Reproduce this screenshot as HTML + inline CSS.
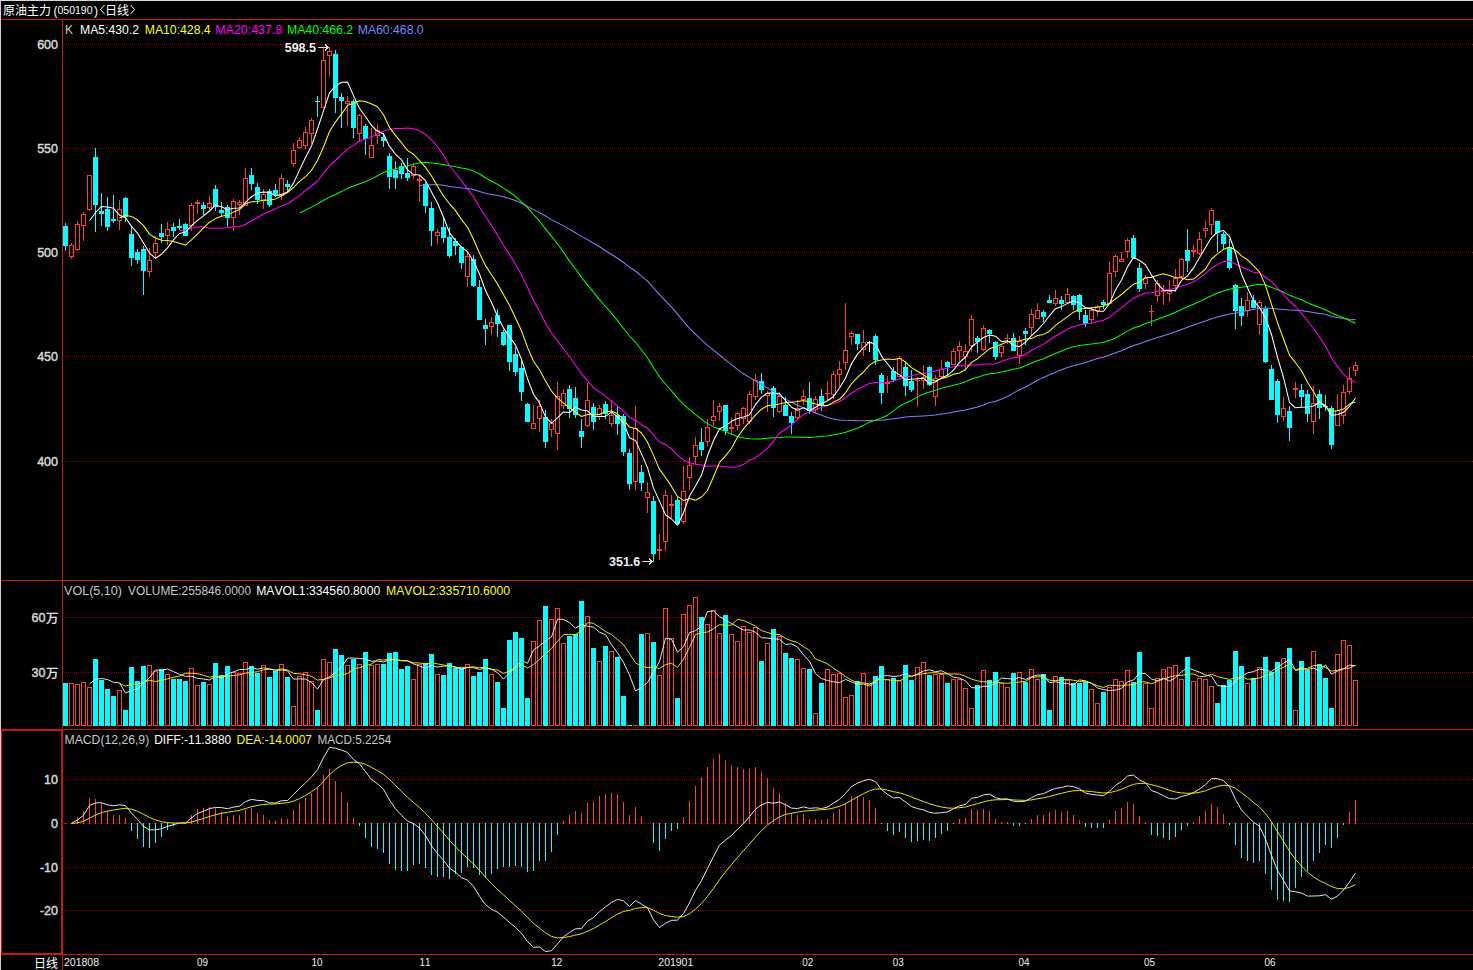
<!DOCTYPE html><html><head><meta charset="utf-8"><title>chart</title><style>html,body{margin:0;padding:0;background:#000;overflow:hidden}body{width:1473px;height:970px;position:relative}text{font-kerning:none}</style></head><body><svg width="1473" height="970" viewBox="0 0 1473 970" style="display:block;position:absolute;left:0;top:0">
<rect width="1473" height="970" fill="#000"/>
<rect x="0" y="0" width="1473" height="1" fill="#dcd6d4"/>
<rect x="0" y="0" width="1" height="970" fill="#d4cfcb"/>
<g stroke="#960000" stroke-width="1" stroke-dasharray="1 1" shape-rendering="crispEdges">
<line x1="64" y1="44.5" x2="1473" y2="44.5"/>
<line x1="64" y1="148.5" x2="1473" y2="148.5"/>
<line x1="64" y1="252.5" x2="1473" y2="252.5"/>
<line x1="64" y1="356.5" x2="1473" y2="356.5"/>
<line x1="64" y1="461.5" x2="1473" y2="461.5"/>
<line x1="64" y1="617.5" x2="1473" y2="617.5"/>
<line x1="64" y1="672.5" x2="1473" y2="672.5"/>
<line x1="64" y1="779.5" x2="1473" y2="779.5"/>
<line x1="64" y1="823.5" x2="1473" y2="823.5"/>
<line x1="64" y1="867.5" x2="1473" y2="867.5"/>
<line x1="64" y1="910.5" x2="1473" y2="910.5"/>
</g>
<g fill="#c21a10" shape-rendering="crispEdges">
<rect x="1" y="19" width="1472" height="1"/>
<rect x="62" y="19" width="1" height="951"/>
<rect x="1" y="580" width="1472" height="1"/>
<rect x="1" y="729" width="1472" height="1"/>
<rect x="1" y="954" width="1472" height="1"/>
<rect x="1" y="730" width="61" height="1"/>
<rect x="1" y="953" width="61" height="1"/>
<rect x="1" y="730" width="1" height="224"/>
<rect x="61" y="730" width="1" height="224"/>
</g>
<g shape-rendering="crispEdges" fill-rule="evenodd">
<path fill="#ff3c3c" d="M69 245h5v12h-5zM70 246h3v10h-3zM71 243h1v2h-1zM71 257h1v2h-1zM75 224h5v26h-5zM76 225h3v24h-3zM77 221h1v3h-1zM77 250h1v1h-1zM81 214h5v12h-5zM82 215h3v10h-3zM83 212h1v2h-1zM83 226h1v15h-1zM87 175h5v35h-5zM88 176h3v33h-3zM89 210h1v1h-1zM117 209h5v12h-5zM118 210h3v10h-3zM119 200h1v9h-1zM119 221h1v9h-1zM147 260h5v12h-5zM148 261h3v10h-3zM149 248h1v12h-1zM149 272h1v5h-1zM153 243h5v10h-5zM154 244h3v8h-3zM155 236h1v7h-1zM155 253h1v6h-1zM165 229h5v7h-5zM166 230h3v5h-3zM167 222h1v7h-1zM167 236h1v9h-1zM189 205h5v21h-5zM190 206h3v19h-3zM191 203h1v2h-1zM191 226h1v5h-1zM195 202h5v2h-5zM197 200h1v2h-1zM197 204h1v10h-1zM207 203h5v5h-5zM208 204h3v3h-3zM209 196h1v7h-1zM209 208h1v3h-1zM231 201h5v17h-5zM232 202h3v15h-3zM233 199h1v2h-1zM233 218h1v13h-1zM237 202h5v3h-5zM238 203h3v1h-3zM239 200h1v2h-1zM239 205h1v10h-1zM243 178h5v28h-5zM244 179h3v26h-3zM245 168h1v10h-1zM261 194h5v7h-5zM262 195h3v5h-3zM263 189h1v5h-1zM263 201h1v8h-1zM279 178h5v18h-5zM280 179h3v16h-3zM281 174h1v4h-1zM281 196h1v4h-1zM291 150h5v14h-5zM292 151h3v12h-3zM293 143h1v7h-1zM293 164h1v3h-1zM297 140h5v8h-5zM298 141h3v6h-3zM299 137h1v3h-1zM299 148h1v1h-1zM303 132h5v14h-5zM304 133h3v12h-3zM305 127h1v5h-1zM305 146h1v3h-1zM309 120h5v14h-5zM310 121h3v12h-3zM311 118h1v2h-1zM311 134h1v10h-1zM321 60h5v48h-5zM322 61h3v46h-3zM323 48h1v12h-1zM327 51h5v5h-5zM328 52h3v3h-3zM329 47h1v4h-1zM329 56h1v20h-1zM345 101h5v3h-5zM346 102h3v1h-3zM347 96h1v5h-1zM347 104h1v22h-1zM357 115h5v19h-5zM358 116h3v17h-3zM359 114h1v1h-1zM359 134h1v8h-1zM369 145h5v13h-5zM370 146h3v11h-3zM371 128h1v17h-1zM375 130h5v6h-5zM376 131h3v4h-3zM377 124h1v6h-1zM377 136h1v8h-1zM411 166h5v10h-5zM412 167h3v8h-3zM413 163h1v3h-1zM413 176h1v3h-1zM417 179h5v2h-5zM419 176h1v3h-1zM419 181h1v21h-1zM435 232h5v4h-5zM436 233h3v2h-3zM437 229h1v3h-1zM437 236h1v8h-1zM465 256h5v21h-5zM466 257h3v19h-3zM467 252h1v4h-1zM467 277h1v10h-1zM489 322h5v5h-5zM490 323h3v3h-3zM491 317h1v5h-1zM491 327h1v8h-1zM531 423h5v6h-5zM532 424h3v4h-3zM533 405h1v18h-1zM537 406h5v13h-5zM538 407h3v11h-3zM539 400h1v6h-1zM539 419h1v13h-1zM549 423h5v7h-5zM550 424h3v5h-3zM551 419h1v4h-1zM551 430h1v7h-1zM555 396h5v38h-5zM556 397h3v36h-3zM557 382h1v14h-1zM557 434h1v16h-1zM561 393h5v13h-5zM562 394h3v11h-3zM563 389h1v4h-1zM563 406h1v3h-1zM585 400h5v26h-5zM586 401h3v24h-3zM587 383h1v17h-1zM587 426h1v1h-1zM597 408h5v9h-5zM598 409h3v7h-3zM599 405h1v3h-1zM599 417h1v3h-1zM609 415h5v9h-5zM610 416h3v7h-3zM611 400h1v15h-1zM611 424h1v3h-1zM633 428h5v54h-5zM634 429h3v52h-3zM635 406h1v22h-1zM635 482h1v8h-1zM645 492h5v6h-5zM646 493h3v4h-3zM647 482h1v10h-1zM647 498h1v15h-1zM657 549h5v2h-5zM659 534h1v15h-1zM659 551h1v9h-1zM663 495h5v47h-5zM664 496h3v45h-3zM665 490h1v5h-1zM665 542h1v9h-1zM669 504h5v2h-5zM671 495h1v9h-1zM671 506h1v12h-1zM681 491h5v31h-5zM682 492h3v29h-3zM683 466h1v25h-1zM683 522h1v2h-1zM687 465h5v13h-5zM688 466h3v11h-3zM689 457h1v8h-1zM689 478h1v12h-1zM693 445h5v12h-5zM694 446h3v10h-3zM695 437h1v8h-1zM695 457h1v7h-1zM705 427h5v15h-5zM706 428h3v13h-3zM707 419h1v8h-1zM707 442h1v4h-1zM711 416h5v5h-5zM712 417h3v3h-3zM713 400h1v16h-1zM713 421h1v5h-1zM717 406h5v6h-5zM718 407h3v4h-3zM719 403h1v3h-1zM719 412h1v9h-1zM729 427h5v2h-5zM731 418h1v9h-1zM731 429h1v5h-1zM735 413h5v13h-5zM736 414h3v11h-3zM737 412h1v1h-1zM737 426h1v4h-1zM741 408h5v11h-5zM742 409h3v9h-3zM743 407h1v1h-1zM743 419h1v5h-1zM747 394h5v28h-5zM748 395h3v26h-3zM749 391h1v3h-1zM749 422h1v2h-1zM753 380h5v17h-5zM754 381h3v15h-3zM755 374h1v6h-1zM755 397h1v3h-1zM765 393h5v3h-5zM766 394h3v1h-3zM767 391h1v2h-1zM767 396h1v16h-1zM777 396h5v16h-5zM778 397h3v14h-3zM779 392h1v4h-1zM779 412h1v1h-1zM795 408h5v10h-5zM796 409h3v8h-3zM797 400h1v8h-1zM797 418h1v2h-1zM801 396h5v4h-5zM802 397h3v2h-3zM803 390h1v6h-1zM803 400h1v5h-1zM813 399h5v11h-5zM814 400h3v9h-3zM815 396h1v3h-1zM815 410h1v4h-1zM825 393h5v1h-5zM827 381h1v12h-1zM827 394h1v6h-1zM831 374h5v21h-5zM832 375h3v19h-3zM833 371h1v3h-1zM833 395h1v4h-1zM837 369h5v6h-5zM838 370h3v4h-3zM839 361h1v8h-1zM839 375h1v12h-1zM843 350h5v13h-5zM844 351h3v11h-3zM845 303h1v47h-1zM845 363h1v7h-1zM849 333h5v4h-5zM850 334h3v2h-3zM851 331h1v2h-1zM851 337h1v8h-1zM861 342h5v8h-5zM862 343h3v6h-3zM863 330h1v12h-1zM863 350h1v6h-1zM885 382h5v2h-5zM887 376h1v6h-1zM887 384h1v9h-1zM897 358h5v19h-5zM898 359h3v17h-3zM899 356h1v2h-1zM915 380h5v1h-5zM917 377h1v3h-1zM917 381h1v26h-1zM921 377h5v4h-5zM922 378h3v2h-3zM923 365h1v12h-1zM923 381h1v8h-1zM933 378h5v19h-5zM934 379h3v17h-3zM935 375h1v3h-1zM935 397h1v9h-1zM939 369h5v8h-5zM940 370h3v6h-3zM941 360h1v9h-1zM951 351h5v14h-5zM952 352h3v12h-3zM953 348h1v3h-1zM957 346h5v5h-5zM958 347h3v3h-3zM959 341h1v5h-1zM959 351h1v10h-1zM963 351h5v6h-5zM964 352h3v4h-3zM965 344h1v7h-1zM965 357h1v14h-1zM969 319h5v27h-5zM970 320h3v25h-3zM971 315h1v4h-1zM971 346h1v6h-1zM981 328h5v22h-5zM982 329h3v20h-3zM983 325h1v3h-1zM983 350h1v1h-1zM999 346h5v7h-5zM1000 347h3v5h-3zM1001 345h1v1h-1zM1001 353h1v4h-1zM1005 338h5v1h-5zM1007 334h1v4h-1zM1007 339h1v5h-1zM1017 341h5v15h-5zM1018 342h3v13h-3zM1019 336h1v5h-1zM1019 356h1v8h-1zM1029 314h5v14h-5zM1030 315h3v12h-3zM1031 309h1v5h-1zM1031 328h1v7h-1zM1035 310h5v9h-5zM1036 311h3v7h-3zM1037 303h1v7h-1zM1053 298h5v6h-5zM1054 299h3v4h-3zM1055 290h1v8h-1zM1055 304h1v2h-1zM1065 294h5v9h-5zM1066 295h3v7h-3zM1067 288h1v6h-1zM1089 310h5v10h-5zM1090 311h3v8h-3zM1091 307h1v3h-1zM1091 320h1v3h-1zM1095 306h5v5h-5zM1096 307h3v3h-3zM1097 305h1v1h-1zM1097 311h1v5h-1zM1107 273h5v31h-5zM1108 274h3v29h-3zM1109 262h1v11h-1zM1113 256h5v16h-5zM1114 257h3v14h-3zM1115 254h1v2h-1zM1115 272h1v5h-1zM1119 259h5v3h-5zM1120 260h3v1h-3zM1121 252h1v7h-1zM1125 240h5v12h-5zM1126 241h3v10h-3zM1127 238h1v2h-1zM1127 252h1v6h-1zM1143 278h5v6h-5zM1144 279h3v4h-3zM1145 275h1v3h-1zM1145 284h1v5h-1zM1149 311h5v1h-5zM1151 305h1v6h-1zM1151 312h1v14h-1zM1155 283h5v13h-5zM1156 284h3v11h-3zM1157 280h1v3h-1zM1157 296h1v6h-1zM1161 290h5v2h-5zM1163 285h1v5h-1zM1163 292h1v13h-1zM1167 291h5v3h-5zM1168 292h3v1h-3zM1169 280h1v11h-1zM1169 294h1v8h-1zM1173 278h5v8h-5zM1174 279h3v6h-3zM1175 269h1v9h-1zM1175 286h1v6h-1zM1179 259h5v18h-5zM1180 260h3v16h-3zM1181 258h1v1h-1zM1181 277h1v2h-1zM1191 250h5v2h-5zM1193 245h1v5h-1zM1193 252h1v5h-1zM1197 239h5v15h-5zM1198 240h3v13h-3zM1199 232h1v7h-1zM1199 254h1v1h-1zM1203 228h5v3h-5zM1204 229h3v1h-3zM1205 221h1v7h-1zM1205 231h1v7h-1zM1209 210h5v15h-5zM1210 211h3v13h-3zM1211 208h1v2h-1zM1211 225h1v10h-1zM1245 300h5v11h-5zM1246 301h3v9h-3zM1247 292h1v8h-1zM1247 311h1v6h-1zM1257 302h5v23h-5zM1258 303h3v21h-3zM1259 300h1v2h-1zM1259 325h1v10h-1zM1281 408h5v9h-5zM1282 409h3v7h-3zM1283 397h1v11h-1zM1283 417h1v4h-1zM1293 388h5v2h-5zM1295 382h1v6h-1zM1295 390h1v8h-1zM1311 403h5v19h-5zM1312 404h3v17h-3zM1313 386h1v17h-1zM1313 422h1v12h-1zM1335 410h5v16h-5zM1336 411h3v14h-3zM1337 394h1v16h-1zM1341 392h5v24h-5zM1342 393h3v22h-3zM1343 385h1v7h-1zM1343 416h1v8h-1zM1347 378h5v14h-5zM1348 379h3v12h-3zM1349 367h1v11h-1zM1349 392h1v2h-1zM1353 365h5v6h-5zM1354 366h3v4h-3zM1355 362h1v3h-1zM1355 371h1v5h-1z"/>
<path fill="#00ffff" fill-rule="nonzero" d="M63 226h5v20h-5zM65 223h1v28h-1zM93 157h5v48h-5zM95 148h1v84h-1zM99 211h5v3h-5zM101 193h1v33h-1zM105 209h5v18h-5zM107 197h1v34h-1zM111 219h5v2h-5zM113 195h1v28h-1zM123 198h5v19h-5zM125 197h1v25h-1zM129 234h5v24h-5zM131 226h1v40h-1zM135 252h5v8h-5zM137 249h1v15h-1zM141 249h5v22h-5zM143 246h1v49h-1zM159 233h5v4h-5zM161 224h1v19h-1zM171 227h5v4h-5zM173 223h1v14h-1zM177 226h5v2h-5zM179 219h1v11h-1zM183 224h5v12h-5zM185 223h1v13h-1zM201 205h5v4h-5zM203 202h1v13h-1zM213 189h5v18h-5zM215 185h1v26h-1zM219 210h5v3h-5zM221 202h1v15h-1zM225 207h5v11h-5zM227 205h1v22h-1zM249 175h5v9h-5zM251 168h1v22h-1zM255 187h5v13h-5zM257 183h1v21h-1zM267 191h5v14h-5zM269 189h1v18h-1zM273 190h5v5h-5zM275 184h1v13h-1zM285 184h5v3h-5zM287 180h1v12h-1zM315 101h5v1h-5zM317 96h1v21h-1zM333 54h5v44h-5zM335 50h1v63h-1zM339 97h5v4h-5zM341 93h1v35h-1zM351 101h5v27h-5zM353 99h1v39h-1zM363 126h5v13h-5zM365 124h1v31h-1zM381 137h5v4h-5zM383 133h1v14h-1zM387 156h5v21h-5zM389 153h1v36h-1zM393 170h5v8h-5zM395 161h1v28h-1zM399 166h5v8h-5zM401 163h1v16h-1zM405 173h5v5h-5zM407 158h1v23h-1zM423 184h5v22h-5zM425 182h1v31h-1zM429 208h5v23h-5zM431 202h1v44h-1zM441 227h5v11h-5zM443 217h1v26h-1zM447 237h5v19h-5zM449 227h1v31h-1zM453 241h5v5h-5zM455 238h1v17h-1zM459 247h5v16h-5zM461 246h1v23h-1zM471 259h5v27h-5zM473 255h1v32h-1zM477 287h5v33h-5zM479 280h1v40h-1zM483 325h5v4h-5zM485 319h1v26h-1zM495 315h5v9h-5zM497 309h1v28h-1zM501 332h5v13h-5zM503 330h1v16h-1zM507 325h5v37h-5zM509 325h1v46h-1zM513 354h5v18h-5zM515 347h1v29h-1zM519 368h5v24h-5zM521 359h1v42h-1zM525 404h5v18h-5zM527 403h1v19h-1zM543 417h5v25h-5zM545 410h1v38h-1zM567 389h5v20h-5zM569 385h1v33h-1zM573 398h5v17h-5zM575 387h1v31h-1zM579 431h5v6h-5zM581 419h1v29h-1zM591 407h5v15h-5zM593 403h1v27h-1zM603 404h5v10h-5zM605 401h1v18h-1zM615 415h5v9h-5zM617 407h1v28h-1zM621 416h5v36h-5zM623 414h1v42h-1zM627 453h5v31h-5zM629 449h1v41h-1zM639 472h5v11h-5zM641 465h1v26h-1zM651 501h5v53h-5zM653 496h1v66h-1zM675 500h5v24h-5zM677 497h1v27h-1zM699 442h5v8h-5zM701 428h1v28h-1zM723 405h5v26h-5zM725 405h1v30h-1zM759 381h5v9h-5zM761 373h1v21h-1zM771 388h5v20h-5zM773 386h1v31h-1zM783 405h5v11h-5zM785 397h1v19h-1zM789 416h5v7h-5zM791 412h1v22h-1zM807 398h5v13h-5zM809 382h1v32h-1zM819 396h5v9h-5zM821 389h1v22h-1zM855 334h5v10h-5zM857 334h1v16h-1zM873 336h5v24h-5zM875 334h1v31h-1zM879 375h5v18h-5zM881 373h1v31h-1zM891 371h5v9h-5zM893 367h1v15h-1zM903 367h5v19h-5zM905 362h1v34h-1zM909 381h5v9h-5zM911 370h1v22h-1zM927 367h5v18h-5zM929 366h1v20h-1zM945 362h5v5h-5zM947 361h1v14h-1zM975 338h5v4h-5zM977 336h1v17h-1zM987 330h5v4h-5zM989 329h1v14h-1zM993 342h5v15h-5zM995 341h1v19h-1zM1011 338h5v13h-5zM1013 333h1v18h-1zM1023 331h5v3h-5zM1025 328h1v17h-1zM1041 312h5v5h-5zM1043 310h1v12h-1zM1047 300h5v3h-5zM1049 295h1v8h-1zM1059 300h5v4h-5zM1061 296h1v14h-1zM1071 296h5v9h-5zM1073 295h1v15h-1zM1077 295h5v17h-5zM1079 294h1v26h-1zM1083 315h5v9h-5zM1085 310h1v17h-1zM1101 302h5v3h-5zM1103 300h1v9h-1zM1131 238h5v20h-5zM1133 235h1v23h-1zM1137 268h5v21h-5zM1139 263h1v29h-1zM1185 250h5v11h-5zM1187 229h1v43h-1zM1215 221h5v12h-5zM1217 221h1v31h-1zM1221 234h5v10h-5zM1223 232h1v17h-1zM1227 247h5v21h-5zM1229 239h1v31h-1zM1233 285h5v26h-5zM1235 284h1v45h-1zM1239 306h5v10h-5zM1241 298h1v28h-1zM1251 300h5v8h-5zM1253 295h1v13h-1zM1263 309h5v53h-5zM1265 306h1v57h-1zM1269 369h5v31h-5zM1271 365h1v35h-1zM1275 381h5v34h-5zM1277 379h1v44h-1zM1287 411h5v17h-5zM1289 406h1v35h-1zM1299 390h5v7h-5zM1301 384h1v23h-1zM1305 394h5v20h-5zM1307 390h1v32h-1zM1317 394h5v14h-5zM1319 390h1v29h-1zM1323 406h5v1h-5zM1325 395h1v16h-1zM1329 408h5v37h-5zM1331 406h1v43h-1z"/>
<path fill="#fff" fill-rule="nonzero" d="M867 342h5v1h-5zM869 341h1v11h-1z"/>
</g>
<g shape-rendering="crispEdges" fill-rule="evenodd">
<path fill="#ff3c3c" d="M69 683h5v43h-5zM70 684h3v41h-3zM75 684h5v42h-5zM76 685h3v40h-3zM81 682h5v44h-5zM82 683h3v42h-3zM87 687h5v39h-5zM88 688h3v37h-3zM117 690h5v36h-5zM118 691h3v34h-3zM147 665h5v61h-5zM148 666h3v59h-3zM153 671h5v55h-5zM154 672h3v53h-3zM165 674h5v52h-5zM166 675h3v50h-3zM189 668h5v58h-5zM190 669h3v56h-3zM195 685h5v41h-5zM196 686h3v39h-3zM207 684h5v42h-5zM208 685h3v40h-3zM231 672h5v54h-5zM232 673h3v52h-3zM237 673h5v53h-5zM238 674h3v51h-3zM243 662h5v64h-5zM244 663h3v62h-3zM261 665h5v61h-5zM262 666h3v59h-3zM279 664h5v62h-5zM280 665h3v60h-3zM291 706h5v20h-5zM292 707h3v18h-3zM297 676h5v50h-5zM298 677h3v48h-3zM303 672h5v54h-5zM304 673h3v52h-3zM309 681h5v45h-5zM310 682h3v43h-3zM321 659h5v67h-5zM322 660h3v65h-3zM327 662h5v64h-5zM328 663h3v62h-3zM345 665h5v61h-5zM346 666h3v59h-3zM357 664h5v62h-5zM358 665h3v60h-3zM369 665h5v61h-5zM370 666h3v59h-3zM375 664h5v62h-5zM376 665h3v60h-3zM411 679h5v47h-5zM412 680h3v45h-3zM417 664h5v62h-5zM418 665h3v60h-3zM435 674h5v52h-5zM436 675h3v50h-3zM465 664h5v62h-5zM466 665h3v60h-3zM489 674h5v52h-5zM490 675h3v50h-3zM531 641h5v85h-5zM532 642h3v83h-3zM537 620h5v106h-5zM538 621h3v104h-3zM549 619h5v107h-5zM550 620h3v105h-3zM555 608h5v118h-5zM556 609h3v116h-3zM561 643h5v83h-5zM562 644h3v81h-3zM585 616h5v110h-5zM586 617h3v108h-3zM597 661h5v65h-5zM598 662h3v63h-3zM609 651h5v75h-5zM610 652h3v73h-3zM633 725h5v1h-5zM645 633h5v93h-5zM646 634h3v91h-3zM657 675h5v51h-5zM658 676h3v49h-3zM663 608h5v118h-5zM664 609h3v116h-3zM669 638h5v88h-5zM670 639h3v86h-3zM681 614h5v112h-5zM682 615h3v110h-3zM687 605h5v121h-5zM688 606h3v119h-3zM693 597h5v129h-5zM694 598h3v127h-3zM705 624h5v102h-5zM706 625h3v100h-3zM711 610h5v116h-5zM712 611h3v114h-3zM717 633h5v93h-5zM718 634h3v91h-3zM729 634h5v92h-5zM730 635h3v90h-3zM735 641h5v85h-5zM736 642h3v83h-3zM741 626h5v100h-5zM742 627h3v98h-3zM747 632h5v94h-5zM748 633h3v92h-3zM753 627h5v99h-5zM754 628h3v97h-3zM765 643h5v83h-5zM766 644h3v81h-3zM777 636h5v90h-5zM778 637h3v88h-3zM795 659h5v67h-5zM796 660h3v65h-3zM801 668h5v58h-5zM802 669h3v56h-3zM813 713h5v13h-5zM814 714h3v11h-3zM825 669h5v57h-5zM826 670h3v55h-3zM831 674h5v52h-5zM832 675h3v50h-3zM837 673h5v53h-5zM838 674h3v51h-3zM843 697h5v29h-5zM844 698h3v27h-3zM849 695h5v31h-5zM850 696h3v29h-3zM861 673h5v53h-5zM862 674h3v51h-3zM867 683h5v43h-5zM868 684h3v41h-3zM885 679h5v47h-5zM886 680h3v45h-3zM897 680h5v46h-5zM898 681h3v44h-3zM915 667h5v59h-5zM916 668h3v57h-3zM921 662h5v64h-5zM922 663h3v62h-3zM933 674h5v52h-5zM934 675h3v50h-3zM939 674h5v52h-5zM940 675h3v50h-3zM951 679h5v47h-5zM952 680h3v45h-3zM957 679h5v47h-5zM958 680h3v45h-3zM963 688h5v38h-5zM964 689h3v36h-3zM969 708h5v18h-5zM970 709h3v16h-3zM981 670h5v56h-5zM982 671h3v54h-3zM999 683h5v43h-5zM1000 684h3v41h-3zM1005 687h5v39h-5zM1006 688h3v37h-3zM1017 672h5v54h-5zM1018 673h3v52h-3zM1029 669h5v57h-5zM1030 670h3v55h-3zM1035 679h5v47h-5zM1036 680h3v45h-3zM1053 676h5v50h-5zM1054 677h3v48h-3zM1065 680h5v46h-5zM1066 681h3v44h-3zM1089 689h5v37h-5zM1090 690h3v35h-3zM1095 703h5v23h-5zM1096 704h3v21h-3zM1107 687h5v39h-5zM1108 688h3v37h-3zM1113 679h5v47h-5zM1114 680h3v45h-3zM1119 681h5v45h-5zM1120 682h3v43h-3zM1125 670h5v56h-5zM1126 671h3v54h-3zM1143 683h5v43h-5zM1144 684h3v41h-3zM1149 708h5v18h-5zM1150 709h3v16h-3zM1155 678h5v48h-5zM1156 679h3v46h-3zM1161 669h5v57h-5zM1162 670h3v55h-3zM1167 667h5v59h-5zM1168 668h3v57h-3zM1173 665h5v61h-5zM1174 666h3v59h-3zM1179 679h5v47h-5zM1180 680h3v45h-3zM1191 681h5v45h-5zM1192 682h3v43h-3zM1197 678h5v48h-5zM1198 679h3v46h-3zM1203 679h5v47h-5zM1204 680h3v45h-3zM1209 686h5v40h-5zM1210 687h3v38h-3zM1245 683h5v43h-5zM1246 684h3v41h-3zM1257 667h5v59h-5zM1258 668h3v57h-3zM1281 658h5v68h-5zM1282 659h3v66h-3zM1293 710h5v16h-5zM1294 711h3v14h-3zM1311 651h5v75h-5zM1312 652h3v73h-3zM1335 654h5v72h-5zM1336 655h3v70h-3zM1341 640h5v86h-5zM1342 641h3v84h-3zM1347 645h5v81h-5zM1348 646h3v79h-3zM1353 680h5v46h-5zM1354 681h3v44h-3z"/>
<path fill="#00ffff" d="M63 683h5v43h-5zM93 659h5v67h-5zM99 680h5v46h-5zM105 689h5v37h-5zM111 696h5v30h-5zM123 710h5v16h-5zM129 667h5v59h-5zM135 681h5v45h-5zM141 666h5v60h-5zM159 669h5v57h-5zM171 679h5v47h-5zM177 679h5v47h-5zM183 681h5v45h-5zM201 682h5v44h-5zM213 663h5v63h-5zM219 675h5v51h-5zM225 666h5v60h-5zM249 666h5v60h-5zM255 673h5v53h-5zM267 677h5v49h-5zM273 671h5v55h-5zM285 677h5v49h-5zM315 710h5v16h-5zM333 649h5v77h-5zM339 655h5v71h-5zM351 659h5v67h-5zM363 652h5v74h-5zM381 664h5v62h-5zM387 653h5v73h-5zM393 652h5v74h-5zM399 669h5v57h-5zM405 666h5v60h-5zM423 663h5v63h-5zM429 654h5v72h-5zM441 675h5v51h-5zM447 663h5v63h-5zM453 668h5v58h-5zM459 668h5v58h-5zM471 676h5v50h-5zM477 672h5v54h-5zM483 659h5v67h-5zM495 682h5v44h-5zM501 708h5v18h-5zM507 640h5v86h-5zM513 632h5v94h-5zM519 638h5v88h-5zM525 698h5v28h-5zM543 606h5v120h-5zM567 636h5v90h-5zM573 634h5v92h-5zM579 601h5v125h-5zM591 648h5v78h-5zM603 646h5v80h-5zM615 657h5v69h-5zM621 696h5v30h-5zM627 725h5v1h-5zM639 634h5v92h-5zM651 642h5v84h-5zM675 698h5v28h-5zM699 617h5v109h-5zM723 615h5v111h-5zM759 661h5v65h-5zM771 629h5v97h-5zM783 653h5v73h-5zM789 658h5v68h-5zM807 669h5v57h-5zM819 683h5v43h-5zM855 681h5v45h-5zM873 676h5v50h-5zM879 666h5v60h-5zM891 678h5v48h-5zM903 665h5v61h-5zM909 680h5v46h-5zM927 675h5v51h-5zM945 683h5v43h-5zM975 685h5v41h-5zM987 680h5v46h-5zM993 672h5v54h-5zM1011 673h5v53h-5zM1023 682h5v44h-5zM1041 674h5v52h-5zM1047 710h5v16h-5zM1059 677h5v49h-5zM1071 683h5v43h-5zM1077 683h5v43h-5zM1083 682h5v44h-5zM1101 692h5v34h-5zM1131 682h5v44h-5zM1137 652h5v74h-5zM1185 657h5v69h-5zM1215 703h5v23h-5zM1221 685h5v41h-5zM1227 680h5v46h-5zM1233 651h5v75h-5zM1239 666h5v60h-5zM1251 678h5v48h-5zM1263 657h5v69h-5zM1269 672h5v54h-5zM1275 662h5v64h-5zM1287 648h5v78h-5zM1299 661h5v65h-5zM1305 670h5v56h-5zM1317 664h5v62h-5zM1323 678h5v48h-5zM1329 708h5v18h-5z"/>
</g>
<g shape-rendering="crispEdges">
<path fill="#ff3c3c" d="M65 823h1v1h-1zM71 823h1v1h-1zM77 817h1v7h-1zM83 811h1v13h-1zM89 798h1v26h-1zM95 799h1v25h-1zM101 803h1v21h-1zM107 811h1v13h-1zM113 815h1v9h-1zM119 815h1v9h-1zM125 818h1v6h-1zM185 823h1v1h-1zM191 815h1v9h-1zM197 809h1v15h-1zM203 808h1v16h-1zM209 807h1v17h-1zM215 808h1v16h-1zM221 812h1v12h-1zM227 816h1v8h-1zM233 815h1v9h-1zM239 815h1v9h-1zM245 809h1v15h-1zM251 808h1v16h-1zM257 813h1v11h-1zM263 815h1v9h-1zM269 820h1v4h-1zM275 821h1v3h-1zM281 818h1v6h-1zM287 819h1v5h-1zM293 810h1v14h-1zM299 803h1v21h-1zM305 798h1v26h-1zM311 793h1v31h-1zM317 788h1v36h-1zM323 775h1v49h-1zM329 769h1v55h-1zM335 781h1v43h-1zM341 792h1v32h-1zM347 802h1v22h-1zM353 818h1v6h-1zM563 821h1v3h-1zM569 815h1v9h-1zM575 811h1v13h-1zM581 813h1v11h-1zM587 803h1v21h-1zM593 801h1v23h-1zM599 796h1v28h-1zM605 794h1v30h-1zM611 793h1v31h-1zM617 794h1v30h-1zM623 802h1v22h-1zM629 815h1v9h-1zM635 807h1v17h-1zM641 816h1v8h-1zM683 817h1v7h-1zM689 801h1v23h-1zM695 786h1v38h-1zM701 777h1v47h-1zM707 767h1v57h-1zM713 759h1v65h-1zM719 754h1v70h-1zM725 760h1v64h-1zM731 765h1v59h-1zM737 767h1v57h-1zM743 769h1v55h-1zM749 769h1v55h-1zM755 767h1v57h-1zM761 772h1v52h-1zM767 778h1v46h-1zM773 788h1v36h-1zM779 793h1v31h-1zM785 803h1v21h-1zM791 813h1v11h-1zM797 815h1v9h-1zM803 814h1v10h-1zM809 819h1v5h-1zM815 819h1v5h-1zM821 820h1v4h-1zM827 819h1v5h-1zM833 813h1v11h-1zM839 809h1v15h-1zM845 803h1v21h-1zM851 796h1v28h-1zM857 796h1v28h-1zM863 797h1v27h-1zM869 800h1v24h-1zM875 808h1v16h-1zM959 819h1v5h-1zM965 818h1v6h-1zM971 809h1v15h-1zM977 810h1v14h-1zM983 809h1v15h-1zM989 811h1v13h-1zM995 819h1v5h-1zM1001 822h1v2h-1zM1007 822h1v2h-1zM1031 819h1v5h-1zM1037 815h1v9h-1zM1043 815h1v9h-1zM1049 812h1v12h-1zM1055 810h1v14h-1zM1061 812h1v12h-1zM1067 811h1v13h-1zM1073 815h1v9h-1zM1079 820h1v4h-1zM1109 820h1v4h-1zM1115 811h1v13h-1zM1121 808h1v16h-1zM1127 802h1v22h-1zM1133 804h1v20h-1zM1139 816h1v8h-1zM1145 822h1v2h-1zM1193 822h1v2h-1zM1199 816h1v8h-1zM1205 811h1v13h-1zM1211 804h1v20h-1zM1217 807h1v17h-1zM1223 814h1v10h-1zM1349 812h1v12h-1zM1355 800h1v24h-1z"/>
<path fill="#00ffff" d="M131 823h1v8h-1zM137 823h1v16h-1zM143 823h1v24h-1zM149 823h1v25h-1zM155 823h1v20h-1zM161 823h1v14h-1zM167 823h1v7h-1zM173 823h1v3h-1zM359 823h1v3h-1zM365 823h1v15h-1zM371 823h1v24h-1zM377 823h1v26h-1zM383 823h1v30h-1zM389 823h1v41h-1zM395 823h1v47h-1zM401 823h1v48h-1zM407 823h1v48h-1zM413 823h1v42h-1zM419 823h1v41h-1zM425 823h1v45h-1zM431 823h1v52h-1zM437 823h1v54h-1zM443 823h1v54h-1zM449 823h1v56h-1zM455 823h1v51h-1zM461 823h1v50h-1zM467 823h1v44h-1zM473 823h1v45h-1zM479 823h1v52h-1zM485 823h1v55h-1zM491 823h1v51h-1zM497 823h1v46h-1zM503 823h1v44h-1zM509 823h1v44h-1zM515 823h1v43h-1zM521 823h1v44h-1zM527 823h1v49h-1zM533 823h1v48h-1zM539 823h1v38h-1zM545 823h1v38h-1zM551 823h1v29h-1zM557 823h1v12h-1zM653 823h1v20h-1zM659 823h1v28h-1zM665 823h1v16h-1zM671 823h1v8h-1zM677 823h1v6h-1zM881 823h1v1h-1zM887 823h1v8h-1zM893 823h1v12h-1zM899 823h1v9h-1zM905 823h1v15h-1zM911 823h1v19h-1zM917 823h1v18h-1zM923 823h1v17h-1zM929 823h1v18h-1zM935 823h1v15h-1zM941 823h1v11h-1zM947 823h1v8h-1zM953 823h1v1h-1zM1013 823h1v3h-1zM1019 823h1v3h-1zM1025 823h1v1h-1zM1085 823h1v4h-1zM1091 823h1v5h-1zM1097 823h1v5h-1zM1103 823h1v5h-1zM1151 823h1v12h-1zM1157 823h1v13h-1zM1163 823h1v15h-1zM1169 823h1v17h-1zM1175 823h1v14h-1zM1181 823h1v7h-1zM1187 823h1v3h-1zM1229 823h1v2h-1zM1235 823h1v22h-1zM1241 823h1v35h-1zM1247 823h1v38h-1zM1253 823h1v40h-1zM1259 823h1v38h-1zM1265 823h1v51h-1zM1271 823h1v67h-1zM1277 823h1v77h-1zM1283 823h1v78h-1zM1289 823h1v79h-1zM1295 823h1v65h-1zM1301 823h1v54h-1zM1307 823h1v48h-1zM1313 823h1v38h-1zM1319 823h1v30h-1zM1325 823h1v22h-1zM1331 823h1v25h-1zM1337 823h1v15h-1zM1343 823h1v2h-1z"/>
</g>
<polyline points="71.5,823.4 77.5,819.9 83.5,815.4 89.5,805.5 95.5,802.9 101.5,802.7 107.5,804.8 113.5,805.8 119.5,804.8 125.5,805.6 131.5,813.1 137.5,819.5 143.5,826.4 149.5,829.9 155.5,829.8 161.5,828.7 167.5,826.3 173.5,824.7 179.5,823.0 185.5,823.0 191.5,817.9 197.5,813.4 203.5,811.2 209.5,808.6 215.5,807.4 221.5,807.6 227.5,808.7 233.5,807.1 239.5,806.2 245.5,801.6 251.5,799.3 257.5,800.4 263.5,800.6 269.5,802.8 275.5,803.0 281.5,800.7 287.5,800.6 293.5,794.6 299.5,788.5 305.5,782.9 311.5,776.9 317.5,769.7 323.5,757.6 329.5,747.4 335.5,748.2 341.5,750.1 347.5,752.4 353.5,759.5 359.5,763.8 365.5,771.7 371.5,779.6 377.5,783.7 383.5,789.2 389.5,800.0 395.5,808.8 401.5,815.3 407.5,821.0 413.5,823.6 419.5,827.9 425.5,835.6 431.5,845.7 437.5,853.6 443.5,860.3 449.5,868.2 455.5,872.2 461.5,877.7 467.5,880.1 473.5,886.4 479.5,896.2 485.5,904.7 491.5,909.3 497.5,912.2 503.5,917.0 509.5,922.5 515.5,927.3 521.5,933.3 527.5,941.7 533.5,947.2 539.5,947.1 545.5,951.6 551.5,950.7 557.5,943.9 563.5,936.7 569.5,932.5 575.5,928.9 581.5,928.6 587.5,921.1 593.5,917.6 599.5,911.6 605.5,906.9 611.5,902.4 617.5,899.4 623.5,900.8 629.5,906.4 635.5,900.5 641.5,904.2 647.5,907.8 653.5,919.9 659.5,927.5 665.5,923.3 671.5,920.3 677.5,920.2 683.5,913.5 689.5,902.9 695.5,890.4 701.5,880.6 707.5,868.5 713.5,856.6 719.5,845.1 725.5,840.2 731.5,835.4 737.5,829.3 743.5,823.6 749.5,816.7 755.5,809.1 761.5,804.9 767.5,802.4 773.5,803.2 779.5,802.0 785.5,804.7 791.5,808.1 797.5,808.5 803.5,806.9 809.5,808.4 815.5,807.8 821.5,808.5 827.5,807.1 833.5,803.1 839.5,799.3 845.5,793.5 851.5,786.5 857.5,783.2 863.5,780.7 869.5,779.3 875.5,781.7 881.5,789.6 887.5,794.3 893.5,797.9 899.5,797.5 905.5,802.0 911.5,806.5 917.5,808.6 923.5,809.9 929.5,812.4 935.5,813.3 941.5,812.7 947.5,811.9 953.5,808.8 959.5,805.8 965.5,804.4 971.5,798.2 977.5,797.4 983.5,794.8 989.5,794.1 995.5,797.7 1001.5,799.0 1007.5,798.9 1013.5,801.2 1019.5,801.7 1025.5,801.1 1031.5,797.7 1037.5,794.6 1043.5,793.7 1049.5,790.8 1055.5,788.3 1061.5,787.6 1067.5,785.9 1073.5,786.7 1079.5,788.9 1085.5,793.1 1091.5,794.4 1097.5,795.0 1103.5,795.7 1109.5,791.3 1115.5,785.3 1121.5,781.6 1127.5,776.0 1133.5,775.0 1139.5,780.0 1145.5,782.7 1151.5,790.6 1157.5,792.6 1163.5,795.8 1169.5,798.6 1175.5,799.0 1181.5,796.5 1187.5,795.0 1193.5,792.5 1199.5,789.0 1205.5,784.7 1211.5,778.8 1217.5,778.5 1223.5,780.6 1229.5,786.8 1235.5,799.3 1241.5,810.1 1247.5,816.2 1253.5,822.3 1259.5,826.2 1265.5,839.1 1271.5,855.4 1277.5,870.4 1283.5,880.4 1289.5,890.9 1295.5,891.7 1301.5,893.0 1307.5,896.1 1313.5,896.0 1319.5,895.8 1325.5,894.7 1331.5,899.2 1337.5,896.1 1343.5,890.0 1349.5,882.0 1355.5,873.0" fill="none" stroke="#ffffff" stroke-width="0.9" stroke-linejoin="round"/>
<polyline points="71.5,823.5 77.5,822.8 83.5,821.3 89.5,818.1 95.5,815.1 101.5,812.6 107.5,811.1 113.5,810.0 119.5,809.0 125.5,808.3 131.5,809.2 137.5,811.3 143.5,814.3 149.5,817.4 155.5,819.9 161.5,821.7 167.5,822.6 173.5,823.0 179.5,823.0 185.5,823.0 191.5,822.0 197.5,820.3 203.5,818.5 209.5,816.5 215.5,814.7 221.5,813.3 227.5,812.3 233.5,811.3 239.5,810.3 245.5,808.5 251.5,806.7 257.5,805.4 263.5,804.5 269.5,804.1 275.5,803.9 281.5,803.3 287.5,802.7 293.5,801.1 299.5,798.6 305.5,795.4 311.5,791.7 317.5,787.3 323.5,781.4 329.5,774.6 335.5,769.3 341.5,765.5 347.5,762.8 353.5,762.2 359.5,762.5 365.5,764.3 371.5,767.4 377.5,770.6 383.5,774.3 389.5,779.5 395.5,785.4 401.5,791.3 407.5,797.3 413.5,802.5 419.5,807.6 425.5,813.2 431.5,819.7 437.5,826.5 443.5,833.3 449.5,840.3 455.5,846.7 461.5,852.9 467.5,858.3 473.5,863.9 479.5,870.4 485.5,877.2 491.5,883.6 497.5,889.4 503.5,894.9 509.5,900.4 515.5,905.8 521.5,911.3 527.5,917.4 533.5,923.3 539.5,928.1 545.5,932.8 551.5,936.4 557.5,937.9 563.5,937.6 569.5,936.6 575.5,935.1 581.5,933.8 587.5,931.2 593.5,928.5 599.5,925.1 605.5,921.5 611.5,917.7 617.5,914.0 623.5,911.4 629.5,910.4 635.5,908.4 641.5,907.6 647.5,907.6 653.5,910.1 659.5,913.5 665.5,915.5 671.5,916.5 677.5,917.2 683.5,916.5 689.5,913.8 695.5,909.1 701.5,903.4 707.5,896.4 713.5,888.4 719.5,879.8 725.5,871.9 731.5,864.6 737.5,857.5 743.5,850.7 749.5,843.9 755.5,837.0 761.5,830.6 767.5,824.9 773.5,820.6 779.5,816.9 785.5,814.4 791.5,813.2 797.5,812.2 803.5,811.2 809.5,810.6 815.5,810.1 821.5,809.7 827.5,809.2 833.5,808.0 839.5,806.3 845.5,803.7 851.5,800.3 857.5,796.9 863.5,793.6 869.5,790.8 875.5,789.0 881.5,789.1 887.5,790.1 893.5,791.7 899.5,792.8 905.5,794.7 911.5,797.0 917.5,799.4 923.5,801.5 929.5,803.7 935.5,805.6 941.5,807.0 947.5,808.0 953.5,808.2 959.5,807.7 965.5,807.0 971.5,805.3 977.5,803.7 983.5,801.9 989.5,800.4 995.5,799.8 1001.5,799.7 1007.5,799.5 1013.5,799.9 1019.5,800.2 1025.5,800.4 1031.5,799.9 1037.5,798.8 1043.5,797.8 1049.5,796.4 1055.5,794.8 1061.5,793.3 1067.5,791.8 1073.5,790.8 1079.5,790.4 1085.5,791.0 1091.5,791.6 1097.5,792.3 1103.5,793.0 1109.5,792.6 1115.5,791.2 1121.5,789.3 1127.5,786.6 1133.5,784.3 1139.5,783.4 1145.5,783.3 1151.5,784.7 1157.5,786.3 1163.5,788.2 1169.5,790.3 1175.5,792.0 1181.5,792.9 1187.5,793.3 1193.5,793.2 1199.5,792.3 1205.5,790.8 1211.5,788.4 1217.5,786.4 1223.5,785.3 1229.5,785.6 1235.5,788.3 1241.5,792.7 1247.5,797.4 1253.5,802.4 1259.5,807.1 1265.5,813.5 1271.5,821.9 1277.5,831.6 1283.5,841.4 1289.5,851.3 1295.5,859.4 1301.5,866.1 1307.5,872.1 1313.5,876.9 1319.5,880.7 1325.5,883.5 1331.5,886.6 1337.5,888.5 1343.5,888.8 1349.5,887.4 1355.5,884.6" fill="none" stroke="#ffff00" stroke-width="0.9" stroke-linejoin="round"/>
<polyline points="89.5,684.0 95.5,679.2 101.5,678.5 107.5,679.5 113.5,682.3 119.5,682.9 125.5,693.0 131.5,690.4 137.5,688.8 143.5,682.8 149.5,677.8 155.5,669.9 161.5,670.4 167.5,669.0 173.5,671.6 179.5,674.4 185.5,676.4 191.5,676.2 197.5,678.4 203.5,679.0 209.5,680.0 215.5,676.4 221.5,677.9 227.5,674.0 233.5,671.9 239.5,669.6 245.5,669.5 251.5,667.7 257.5,669.1 263.5,667.9 269.5,668.7 275.5,670.4 281.5,670.0 287.5,670.8 293.5,679.1 299.5,678.9 305.5,679.1 311.5,682.5 317.5,689.1 323.5,679.6 329.5,676.8 335.5,672.3 341.5,667.1 347.5,658.1 353.5,658.1 359.5,658.5 365.5,659.1 371.5,661.2 377.5,661.0 383.5,662.0 389.5,659.7 395.5,659.7 401.5,660.5 407.5,660.8 413.5,663.9 419.5,666.0 425.5,668.3 431.5,665.3 437.5,667.0 443.5,666.1 449.5,665.9 455.5,666.8 461.5,669.5 467.5,667.5 473.5,667.7 479.5,669.5 485.5,667.8 491.5,669.1 497.5,672.7 503.5,679.1 509.5,672.7 515.5,667.4 521.5,660.1 527.5,663.3 533.5,649.9 539.5,646.0 545.5,640.7 551.5,637.0 557.5,619.1 563.5,619.5 569.5,622.6 575.5,628.2 581.5,624.5 587.5,626.2 593.5,627.1 599.5,632.2 605.5,634.6 611.5,644.7 617.5,652.8 623.5,662.4 629.5,675.1 635.5,690.9 641.5,687.5 647.5,682.6 653.5,671.8 659.5,661.8 665.5,638.3 671.5,639.1 677.5,652.2 683.5,646.7 689.5,632.7 695.5,630.6 701.5,626.4 707.5,611.7 713.5,610.9 719.5,616.5 725.5,620.1 731.5,623.5 737.5,626.9 743.5,630.1 749.5,629.9 755.5,632.3 761.5,637.7 767.5,638.1 773.5,638.7 779.5,639.3 785.5,644.5 791.5,643.9 797.5,647.0 803.5,654.8 809.5,661.5 815.5,673.6 821.5,678.6 827.5,680.6 833.5,681.8 839.5,682.7 845.5,679.4 851.5,681.9 857.5,684.3 863.5,684.0 869.5,686.1 875.5,681.8 881.5,675.9 887.5,675.6 893.5,676.5 899.5,675.9 905.5,673.7 911.5,676.4 917.5,674.1 923.5,670.9 929.5,669.8 935.5,671.7 941.5,670.7 947.5,673.8 953.5,677.2 959.5,678.1 965.5,680.8 971.5,687.6 977.5,688.0 983.5,686.2 989.5,686.4 995.5,683.1 1001.5,678.1 1007.5,678.6 1013.5,679.1 1019.5,677.5 1025.5,679.5 1031.5,676.7 1037.5,675.1 1043.5,675.3 1049.5,682.8 1055.5,681.7 1061.5,683.3 1067.5,683.4 1073.5,685.2 1079.5,679.8 1085.5,680.9 1091.5,683.3 1097.5,687.9 1103.5,689.7 1109.5,690.5 1115.5,690.1 1121.5,688.5 1127.5,681.9 1133.5,680.0 1139.5,673.0 1145.5,673.7 1151.5,679.1 1157.5,680.7 1163.5,678.1 1169.5,681.2 1175.5,677.7 1181.5,671.8 1187.5,667.6 1193.5,670.0 1199.5,672.2 1205.5,675.0 1211.5,676.3 1217.5,685.6 1223.5,686.3 1229.5,686.6 1235.5,681.0 1241.5,676.9 1247.5,672.9 1253.5,671.6 1259.5,669.1 1265.5,670.3 1271.5,671.4 1277.5,667.2 1283.5,663.2 1289.5,659.4 1295.5,670.0 1301.5,667.9 1307.5,669.5 1313.5,668.1 1319.5,671.3 1325.5,664.8 1331.5,674.2 1337.5,671.1 1343.5,668.9 1349.5,665.2 1355.5,665.6" fill="none" stroke="#ffffff" stroke-width="0.9" stroke-linejoin="round"/>
<polyline points="119.5,683.4 125.5,686.1 131.5,684.5 137.5,684.1 143.5,682.5 149.5,680.3 155.5,681.5 161.5,680.4 167.5,678.9 173.5,677.2 179.5,676.1 185.5,673.2 191.5,673.3 197.5,673.7 203.5,675.3 209.5,677.2 215.5,676.4 221.5,677.0 227.5,676.2 233.5,675.5 239.5,674.8 245.5,673.0 251.5,672.8 257.5,671.6 263.5,669.9 269.5,669.2 275.5,670.0 281.5,668.9 287.5,670.0 293.5,673.5 299.5,673.8 305.5,674.8 311.5,676.3 317.5,680.0 323.5,679.4 329.5,677.9 335.5,675.7 341.5,674.8 347.5,673.6 353.5,668.9 359.5,667.7 365.5,665.7 371.5,664.1 377.5,659.6 383.5,660.0 389.5,659.1 395.5,659.4 401.5,660.8 407.5,660.9 413.5,662.9 419.5,662.9 425.5,664.0 431.5,662.9 437.5,663.9 443.5,665.0 449.5,666.0 455.5,667.5 461.5,667.4 467.5,667.3 473.5,666.9 479.5,667.7 485.5,667.3 491.5,669.3 497.5,670.1 503.5,673.4 509.5,671.1 515.5,667.6 521.5,664.6 527.5,668.0 533.5,664.5 539.5,659.4 545.5,654.0 551.5,648.5 557.5,641.2 563.5,634.7 569.5,634.3 575.5,634.5 581.5,630.8 587.5,622.6 593.5,623.3 599.5,627.4 605.5,631.4 611.5,634.6 617.5,639.5 623.5,644.7 629.5,653.6 635.5,662.8 641.5,666.1 647.5,667.7 653.5,667.1 659.5,668.5 665.5,664.6 671.5,663.3 677.5,667.4 683.5,659.2 689.5,647.3 695.5,634.5 701.5,632.8 707.5,632.0 713.5,628.8 719.5,624.6 725.5,625.4 731.5,625.0 737.5,619.3 743.5,620.5 749.5,623.2 755.5,626.2 761.5,630.6 767.5,632.5 773.5,634.4 779.5,634.6 785.5,638.4 791.5,640.8 797.5,642.5 803.5,646.7 809.5,650.4 815.5,659.0 821.5,661.2 827.5,663.8 833.5,668.3 839.5,672.1 845.5,676.5 851.5,680.2 857.5,682.4 863.5,682.9 869.5,684.4 875.5,680.6 881.5,678.9 887.5,679.9 893.5,680.3 899.5,681.0 905.5,677.7 911.5,676.2 917.5,674.8 923.5,673.7 929.5,672.8 935.5,672.7 941.5,673.6 947.5,673.9 953.5,674.0 959.5,674.0 965.5,676.3 971.5,679.1 977.5,680.9 983.5,681.7 989.5,682.2 995.5,682.0 1001.5,682.9 1007.5,683.3 1013.5,682.6 1019.5,682.0 1025.5,681.3 1031.5,677.4 1037.5,676.8 1043.5,677.2 1049.5,680.2 1055.5,680.6 1061.5,680.0 1067.5,679.3 1073.5,680.3 1079.5,681.3 1085.5,681.3 1091.5,683.3 1097.5,685.7 1103.5,687.5 1109.5,685.2 1115.5,685.5 1121.5,685.9 1127.5,684.9 1133.5,684.8 1139.5,681.8 1145.5,681.9 1151.5,683.8 1157.5,681.3 1163.5,679.0 1169.5,677.1 1175.5,675.7 1181.5,675.5 1187.5,674.1 1193.5,674.0 1199.5,676.7 1205.5,676.3 1211.5,674.1 1217.5,676.6 1223.5,678.1 1229.5,679.4 1235.5,678.0 1241.5,676.6 1247.5,679.2 1253.5,679.0 1259.5,677.9 1265.5,675.6 1271.5,674.2 1277.5,670.1 1283.5,667.4 1289.5,664.2 1295.5,670.2 1301.5,669.7 1307.5,668.4 1313.5,665.6 1319.5,665.3 1325.5,667.4 1331.5,671.1 1337.5,670.3 1343.5,668.5 1349.5,668.2 1355.5,665.2" fill="none" stroke="#ffff00" stroke-width="0.9" stroke-linejoin="round"/>
<polyline points="419.5,185.6 425.5,184.9 431.5,184.7 437.5,184.8 443.5,185.2 449.5,186.6 455.5,187.3 461.5,188.1 467.5,188.6 473.5,189.6 479.5,191.5 485.5,193.3 491.5,194.4 497.5,195.5 503.5,196.7 509.5,198.4 515.5,200.6 521.5,203.2 527.5,206.4 533.5,209.6 539.5,212.6 545.5,216.0 551.5,219.6 557.5,222.9 563.5,225.9 569.5,229.4 575.5,232.8 581.5,236.6 587.5,239.6 593.5,243.3 599.5,246.7 605.5,250.7 611.5,254.5 617.5,258.2 623.5,262.5 629.5,267.2 635.5,271.0 641.5,276.1 647.5,281.2 653.5,287.9 659.5,294.7 665.5,300.8 671.5,307.2 677.5,314.2 683.5,321.4 689.5,328.3 695.5,334.1 701.5,339.9 707.5,345.4 713.5,350.2 719.5,355.0 725.5,359.9 731.5,364.6 737.5,369.3 743.5,373.8 749.5,377.4 755.5,380.8 761.5,384.4 767.5,387.9 773.5,392.0 779.5,395.6 785.5,399.1 791.5,402.3 797.5,405.2 803.5,407.8 809.5,410.4 815.5,413.0 821.5,415.3 827.5,417.6 833.5,419.1 839.5,419.9 845.5,420.3 851.5,420.5 857.5,420.8 863.5,420.7 869.5,420.4 875.5,420.2 881.5,420.2 887.5,419.5 893.5,418.8 899.5,418.0 905.5,417.1 911.5,416.5 917.5,416.3 923.5,416.0 929.5,415.6 935.5,415.0 941.5,413.9 947.5,413.3 953.5,412.1 959.5,411.1 965.5,410.1 971.5,408.4 977.5,407.1 983.5,405.0 989.5,402.5 995.5,401.4 1001.5,399.1 1007.5,396.5 1013.5,393.1 1019.5,389.7 1025.5,387.0 1031.5,383.8 1037.5,380.3 1043.5,377.4 1049.5,374.7 1055.5,372.2 1061.5,369.8 1067.5,367.6 1073.5,365.7 1079.5,364.2 1085.5,362.4 1091.5,360.4 1097.5,358.6 1103.5,356.9 1109.5,354.9 1115.5,352.8 1121.5,350.7 1127.5,348.1 1133.5,345.6 1139.5,343.8 1145.5,341.5 1151.5,339.6 1157.5,337.6 1163.5,335.8 1169.5,333.8 1175.5,331.8 1181.5,329.4 1187.5,327.2 1193.5,325.1 1199.5,322.9 1205.5,320.9 1211.5,318.8 1217.5,317.0 1223.5,315.4 1229.5,314.1 1235.5,313.3 1241.5,312.0 1247.5,310.6 1253.5,309.5 1259.5,308.5 1265.5,308.1 1271.5,308.3 1277.5,308.9 1283.5,309.4 1289.5,310.1 1295.5,310.3 1301.5,310.7 1307.5,311.5 1313.5,312.4 1319.5,313.4 1325.5,314.3 1331.5,316.4 1337.5,317.6 1343.5,318.6 1349.5,319.3 1355.5,319.5" fill="none" stroke="#8080ff" stroke-width="1.05" stroke-linejoin="round"/>
<polyline points="299.5,213.0 305.5,210.2 311.5,207.1 317.5,204.0 323.5,200.2 329.5,197.1 335.5,194.4 341.5,191.6 347.5,188.4 353.5,186.1 359.5,183.7 365.5,181.8 371.5,178.9 377.5,175.7 383.5,172.4 389.5,170.4 395.5,168.7 401.5,167.2 407.5,165.9 413.5,164.3 419.5,163.1 425.5,162.3 431.5,163.0 437.5,163.7 443.5,164.5 449.5,165.8 455.5,166.8 461.5,168.0 467.5,169.0 473.5,171.1 479.5,174.0 485.5,177.8 491.5,181.2 497.5,184.3 503.5,188.1 509.5,192.0 515.5,196.5 521.5,201.8 527.5,207.7 533.5,214.5 539.5,221.1 545.5,228.9 551.5,236.4 557.5,243.8 563.5,252.1 569.5,261.1 575.5,269.0 581.5,277.4 587.5,284.9 593.5,292.2 599.5,299.6 605.5,306.5 611.5,313.2 617.5,320.6 623.5,328.3 629.5,336.0 635.5,342.2 641.5,350.0 647.5,357.8 653.5,367.5 659.5,376.8 665.5,384.0 671.5,390.8 677.5,398.1 683.5,404.4 689.5,409.7 695.5,414.7 701.5,419.3 707.5,423.6 713.5,426.9 719.5,429.0 725.5,431.6 731.5,434.2 737.5,436.4 743.5,438.0 749.5,438.8 755.5,439.0 761.5,438.9 767.5,438.2 773.5,437.8 779.5,437.6 785.5,437.0 791.5,436.9 797.5,437.3 803.5,437.3 809.5,437.4 815.5,437.0 821.5,436.2 827.5,436.0 833.5,434.8 839.5,433.8 845.5,432.2 851.5,430.2 857.5,428.2 863.5,425.4 869.5,421.9 875.5,420.2 881.5,417.9 887.5,415.2 893.5,410.8 899.5,406.1 905.5,403.3 911.5,400.5 917.5,396.9 923.5,394.0 929.5,392.0 935.5,390.3 941.5,388.3 947.5,386.8 953.5,385.2 959.5,383.7 965.5,381.7 971.5,379.0 977.5,377.2 983.5,375.2 989.5,373.7 995.5,373.2 1001.5,372.1 1007.5,370.7 1013.5,369.3 1019.5,367.9 1025.5,365.8 1031.5,363.1 1037.5,360.7 1043.5,358.7 1049.5,356.0 1055.5,353.5 1061.5,351.0 1067.5,348.5 1073.5,346.8 1079.5,345.4 1085.5,344.7 1091.5,344.1 1097.5,343.2 1103.5,342.3 1109.5,340.5 1115.5,338.0 1121.5,334.6 1127.5,331.1 1133.5,328.0 1139.5,326.3 1145.5,323.6 1151.5,321.6 1157.5,319.2 1163.5,317.0 1169.5,314.7 1175.5,312.2 1181.5,309.4 1187.5,306.8 1193.5,304.2 1199.5,301.6 1205.5,298.5 1211.5,295.7 1217.5,293.0 1223.5,290.9 1229.5,289.2 1235.5,288.1 1241.5,287.3 1247.5,286.4 1253.5,285.3 1259.5,284.3 1265.5,285.0 1271.5,287.2 1277.5,289.8 1283.5,292.1 1289.5,295.2 1295.5,297.4 1301.5,299.7 1307.5,302.7 1313.5,305.2 1319.5,307.6 1325.5,309.7 1331.5,313.0 1337.5,315.6 1343.5,317.8 1349.5,320.4 1355.5,323.2" fill="none" stroke="#00ff00" stroke-width="1.05" stroke-linejoin="round"/>
<polyline points="179.5,230.6 185.5,230.2 191.5,228.2 197.5,227.0 203.5,226.8 209.5,228.2 215.5,228.3 221.5,228.2 227.5,227.8 233.5,226.8 239.5,226.4 245.5,224.5 251.5,220.8 257.5,217.8 263.5,214.0 269.5,211.3 275.5,208.8 281.5,205.9 287.5,203.8 293.5,199.8 299.5,195.4 305.5,190.3 311.5,186.0 317.5,181.0 323.5,173.5 329.5,165.9 335.5,160.5 341.5,154.9 347.5,149.1 353.5,145.4 359.5,141.0 365.5,139.0 371.5,137.1 377.5,133.6 383.5,130.9 389.5,129.5 395.5,128.6 401.5,128.4 407.5,128.0 413.5,128.7 419.5,130.7 425.5,134.4 431.5,139.9 437.5,146.5 443.5,155.4 449.5,165.6 455.5,173.0 461.5,181.1 467.5,188.9 473.5,196.8 479.5,207.0 485.5,216.5 491.5,225.4 497.5,235.1 503.5,245.3 509.5,254.6 515.5,264.3 521.5,275.2 527.5,287.4 533.5,300.2 539.5,311.6 545.5,323.3 551.5,333.0 557.5,341.1 563.5,348.9 569.5,356.5 575.5,365.0 581.5,373.7 587.5,380.9 593.5,387.7 599.5,392.1 605.5,396.4 611.5,401.1 617.5,406.0 623.5,411.3 629.5,417.4 635.5,420.2 641.5,424.7 647.5,428.3 653.5,434.8 659.5,442.0 665.5,444.6 671.5,448.7 677.5,455.1 683.5,460.0 689.5,462.8 695.5,464.3 701.5,465.0 707.5,466.3 713.5,466.1 719.5,465.9 725.5,466.7 731.5,467.3 737.5,466.8 743.5,464.6 749.5,460.2 755.5,457.8 761.5,453.1 767.5,448.2 773.5,440.9 779.5,433.2 785.5,429.3 791.5,425.2 797.5,419.4 803.5,414.6 809.5,411.9 815.5,409.6 821.5,407.4 827.5,405.6 833.5,403.6 839.5,401.7 845.5,397.7 851.5,393.0 857.5,389.5 863.5,386.2 869.5,383.6 875.5,382.6 881.5,382.7 887.5,382.2 893.5,380.8 899.5,378.9 905.5,377.4 911.5,375.7 917.5,374.3 923.5,373.4 929.5,372.1 935.5,371.0 941.5,369.2 947.5,367.9 953.5,366.8 959.5,365.7 965.5,365.8 971.5,365.0 977.5,364.9 983.5,364.3 989.5,363.9 995.5,363.8 1001.5,361.4 1007.5,359.2 1013.5,357.8 1019.5,356.9 1025.5,354.3 1031.5,350.5 1037.5,347.1 1043.5,344.1 1049.5,340.0 1055.5,336.0 1061.5,332.7 1067.5,329.1 1073.5,326.8 1079.5,325.0 1085.5,323.7 1091.5,323.2 1097.5,321.4 1103.5,320.2 1109.5,317.2 1115.5,312.2 1121.5,307.8 1127.5,302.9 1133.5,298.3 1139.5,295.6 1145.5,292.9 1151.5,292.7 1157.5,291.3 1163.5,289.9 1169.5,289.4 1175.5,288.3 1181.5,286.1 1187.5,284.4 1193.5,281.7 1199.5,278.1 1205.5,273.3 1211.5,268.3 1217.5,264.6 1223.5,261.5 1229.5,261.3 1235.5,264.0 1241.5,266.8 1247.5,269.8 1253.5,272.3 1259.5,273.0 1265.5,277.2 1271.5,281.6 1277.5,288.2 1283.5,294.2 1289.5,301.0 1295.5,306.5 1301.5,313.4 1307.5,321.0 1313.5,328.7 1319.5,337.1 1325.5,346.1 1331.5,357.8 1337.5,366.6 1343.5,374.1 1349.5,379.6 1355.5,382.3" fill="none" stroke="#ff00ff" stroke-width="1.05" stroke-linejoin="round"/>
<polyline points="119.5,218.0 125.5,215.2 131.5,216.4 137.5,220.0 143.5,225.6 149.5,234.1 155.5,238.0 161.5,240.3 167.5,240.5 173.5,241.4 179.5,243.3 185.5,245.1 191.5,239.9 197.5,234.1 203.5,227.9 209.5,222.2 215.5,218.6 221.5,216.2 227.5,215.1 233.5,212.1 239.5,209.6 245.5,203.8 251.5,201.7 257.5,201.6 263.5,200.1 269.5,200.3 275.5,199.1 281.5,195.7 287.5,192.6 293.5,187.5 299.5,181.3 305.5,176.7 311.5,170.3 317.5,160.5 323.5,147.0 329.5,131.5 335.5,121.9 341.5,114.1 347.5,105.5 353.5,103.2 359.5,100.7 365.5,101.4 371.5,103.9 377.5,106.7 383.5,114.8 389.5,127.4 395.5,135.4 401.5,142.7 407.5,150.4 413.5,154.3 419.5,160.7 425.5,167.4 431.5,176.0 437.5,186.3 443.5,196.0 449.5,203.8 455.5,210.6 461.5,219.6 467.5,227.3 473.5,239.3 479.5,253.3 485.5,265.6 491.5,274.8 497.5,284.0 503.5,294.7 509.5,305.3 515.5,317.9 521.5,330.8 527.5,347.4 533.5,361.2 539.5,369.8 545.5,381.0 551.5,391.1 557.5,398.2 563.5,403.1 569.5,407.7 575.5,412.1 581.5,416.5 587.5,414.4 593.5,414.2 599.5,414.5 605.5,411.8 611.5,411.0 617.5,413.8 623.5,419.6 629.5,427.1 635.5,428.4 641.5,433.0 647.5,442.2 653.5,455.4 659.5,469.4 665.5,477.5 671.5,486.4 677.5,496.4 683.5,500.4 689.5,498.5 695.5,500.3 701.5,497.0 707.5,490.5 713.5,476.7 719.5,462.4 725.5,455.9 731.5,448.2 737.5,437.2 743.5,428.9 749.5,421.8 755.5,415.2 761.5,409.2 767.5,405.8 773.5,405.0 779.5,404.1 785.5,402.6 791.5,402.2 797.5,401.6 803.5,400.4 809.5,402.1 815.5,404.0 821.5,405.5 827.5,405.5 833.5,402.1 839.5,399.3 845.5,392.8 851.5,383.8 857.5,377.4 863.5,372.0 869.5,365.1 875.5,361.2 881.5,360.0 887.5,358.9 893.5,359.5 899.5,358.4 905.5,362.0 911.5,367.6 917.5,371.2 923.5,374.8 929.5,379.1 935.5,380.9 941.5,378.5 947.5,377.0 953.5,374.2 959.5,373.0 965.5,369.5 971.5,362.4 977.5,358.7 983.5,353.8 989.5,348.7 995.5,346.6 1001.5,344.3 1007.5,341.5 1013.5,341.4 1019.5,340.9 1025.5,339.1 1031.5,338.6 1037.5,335.5 1043.5,334.4 1049.5,331.2 1055.5,325.4 1061.5,321.1 1067.5,316.7 1073.5,312.2 1079.5,309.2 1085.5,308.2 1091.5,307.8 1097.5,307.3 1103.5,306.1 1109.5,303.2 1115.5,298.9 1121.5,294.5 1127.5,289.1 1133.5,284.3 1139.5,282.0 1145.5,277.5 1151.5,277.6 1157.5,275.3 1163.5,273.8 1169.5,275.5 1175.5,277.7 1181.5,277.7 1187.5,279.8 1193.5,279.1 1199.5,274.1 1205.5,269.0 1211.5,259.0 1217.5,253.9 1223.5,249.3 1229.5,247.0 1235.5,250.2 1241.5,255.9 1247.5,259.8 1253.5,265.6 1259.5,271.9 1265.5,285.4 1271.5,304.3 1277.5,322.6 1283.5,339.0 1289.5,355.1 1295.5,362.7 1301.5,370.8 1307.5,382.2 1313.5,391.7 1319.5,402.3 1325.5,406.8 1331.5,411.3 1337.5,410.8 1343.5,409.1 1349.5,404.1 1355.5,401.9" fill="none" stroke="#ffff00" stroke-width="1.05" stroke-linejoin="round"/>
<polyline points="89.5,220.8 95.5,212.7 101.5,206.4 107.5,206.9 113.5,208.3 119.5,215.2 125.5,217.7 131.5,226.4 137.5,233.1 143.5,243.0 149.5,253.1 155.5,258.3 161.5,254.2 167.5,247.9 173.5,239.9 179.5,233.5 185.5,232.0 191.5,225.6 197.5,220.3 203.5,215.9 209.5,211.0 215.5,205.2 221.5,206.7 227.5,209.8 233.5,208.3 239.5,208.1 245.5,202.4 251.5,196.7 257.5,193.3 263.5,191.9 269.5,192.5 275.5,195.7 281.5,194.6 287.5,192.0 293.5,183.1 299.5,170.1 305.5,157.6 311.5,146.0 317.5,129.0 323.5,110.8 329.5,92.9 335.5,86.2 341.5,82.3 347.5,82.0 353.5,95.6 359.5,108.5 365.5,116.5 371.5,125.5 377.5,131.3 383.5,133.9 389.5,146.4 395.5,154.2 401.5,159.9 407.5,169.6 413.5,174.6 419.5,175.0 425.5,180.7 431.5,192.0 437.5,203.0 443.5,217.3 449.5,232.6 455.5,240.6 461.5,247.1 467.5,251.7 473.5,261.3 479.5,274.0 485.5,290.6 491.5,302.5 497.5,316.3 503.5,328.1 509.5,336.6 515.5,345.1 521.5,359.2 527.5,378.6 533.5,394.3 539.5,402.9 545.5,416.9 551.5,423.1 557.5,417.9 563.5,411.9 569.5,412.5 575.5,407.2 581.5,409.9 587.5,410.8 593.5,416.5 599.5,416.5 605.5,416.4 611.5,412.1 617.5,416.7 623.5,422.7 629.5,437.8 635.5,440.4 641.5,453.9 647.5,467.6 653.5,488.1 659.5,501.1 665.5,514.7 671.5,519.0 677.5,525.2 683.5,512.7 689.5,496.0 695.5,486.0 701.5,475.1 707.5,455.8 713.5,440.7 719.5,428.8 725.5,425.9 731.5,421.3 737.5,418.6 743.5,417.0 749.5,414.7 755.5,404.6 761.5,397.1 767.5,393.1 773.5,393.0 779.5,393.5 785.5,400.6 791.5,407.2 797.5,410.2 803.5,407.7 809.5,410.7 815.5,407.3 821.5,403.8 827.5,400.8 833.5,396.5 839.5,388.0 845.5,378.2 851.5,363.8 857.5,354.1 863.5,347.6 869.5,342.2 875.5,344.2 881.5,356.1 887.5,363.8 893.5,371.4 899.5,374.6 905.5,379.8 911.5,379.2 917.5,378.7 923.5,378.2 929.5,383.6 935.5,382.1 941.5,377.9 947.5,375.3 953.5,370.1 959.5,362.4 965.5,357.0 971.5,347.0 977.5,342.1 983.5,337.5 989.5,335.0 995.5,336.2 1001.5,341.7 1007.5,340.8 1013.5,345.3 1019.5,346.7 1025.5,342.1 1031.5,335.6 1037.5,330.1 1043.5,323.5 1049.5,315.7 1055.5,308.7 1061.5,306.6 1067.5,303.4 1073.5,300.9 1079.5,302.7 1085.5,307.8 1091.5,309.0 1097.5,311.3 1103.5,311.3 1109.5,303.6 1115.5,290.1 1121.5,280.0 1127.5,266.9 1133.5,257.4 1139.5,260.5 1145.5,264.8 1151.5,275.1 1157.5,283.7 1163.5,290.2 1169.5,290.6 1175.5,290.6 1181.5,280.3 1187.5,275.9 1193.5,267.9 1199.5,257.6 1205.5,247.5 1211.5,237.6 1217.5,232.0 1223.5,230.6 1229.5,236.3 1235.5,253.0 1241.5,274.2 1247.5,287.7 1253.5,300.6 1259.5,307.6 1265.5,317.7 1271.5,334.5 1277.5,357.4 1283.5,377.5 1289.5,402.5 1295.5,407.8 1301.5,407.2 1307.5,407.0 1313.5,406.0 1319.5,402.0 1325.5,405.8 1331.5,415.4 1337.5,414.5 1343.5,412.3 1349.5,406.3 1355.5,398.0" fill="none" stroke="#ffffff" stroke-width="1.05" stroke-linejoin="round"/>
<text x="65" y="34" fill="#c8c8c8" font-family="'Liberation Sans', sans-serif" font-size="12" font-weight="normal" text-anchor="start">K</text>
<text x="80" y="34" fill="#fff" font-family="'Liberation Sans', sans-serif" font-size="12" font-weight="normal" text-anchor="start" textLength="59" lengthAdjust="spacingAndGlyphs">MA5:430.2</text>
<text x="144.7" y="34" fill="#ffff00" font-family="'Liberation Sans', sans-serif" font-size="12" font-weight="normal" text-anchor="start" textLength="66" lengthAdjust="spacingAndGlyphs">MA10:428.4</text>
<text x="215.3" y="34" fill="#ff00ff" font-family="'Liberation Sans', sans-serif" font-size="12" font-weight="normal" text-anchor="start" textLength="67" lengthAdjust="spacingAndGlyphs">MA20:437.8</text>
<text x="287" y="34" fill="#00ff00" font-family="'Liberation Sans', sans-serif" font-size="12" font-weight="normal" text-anchor="start" textLength="66" lengthAdjust="spacingAndGlyphs">MA40:466.2</text>
<text x="357.7" y="34" fill="#8080ff" font-family="'Liberation Sans', sans-serif" font-size="12" font-weight="normal" text-anchor="start" textLength="66" lengthAdjust="spacingAndGlyphs">MA60:468.0</text>
<text x="64" y="595" fill="#c8c8c8" font-family="'Liberation Sans', sans-serif" font-size="12" font-weight="normal" text-anchor="start" textLength="58" lengthAdjust="spacingAndGlyphs">VOL(5,10)</text>
<text x="128" y="595" fill="#c8c8c8" font-family="'Liberation Sans', sans-serif" font-size="12" font-weight="normal" text-anchor="start" textLength="123" lengthAdjust="spacingAndGlyphs">VOLUME:255846.0000</text>
<text x="256.2" y="595" fill="#fff" font-family="'Liberation Sans', sans-serif" font-size="12" font-weight="normal" text-anchor="start" textLength="124" lengthAdjust="spacingAndGlyphs">MAVOL1:334560.8000</text>
<text x="386" y="595" fill="#ffff00" font-family="'Liberation Sans', sans-serif" font-size="12" font-weight="normal" text-anchor="start" textLength="124" lengthAdjust="spacingAndGlyphs">MAVOL2:335710.6000</text>
<text x="64.5" y="744" fill="#c8c8c8" font-family="'Liberation Sans', sans-serif" font-size="12" font-weight="normal" text-anchor="start" textLength="84.7" lengthAdjust="spacingAndGlyphs">MACD(12,26,9)</text>
<text x="154.2" y="744" fill="#fff" font-family="'Liberation Sans', sans-serif" font-size="12" font-weight="normal" text-anchor="start" textLength="77" lengthAdjust="spacingAndGlyphs">DIFF:-11.3880</text>
<text x="236.6" y="744" fill="#ffff00" font-family="'Liberation Sans', sans-serif" font-size="12" font-weight="normal" text-anchor="start" textLength="75.4" lengthAdjust="spacingAndGlyphs">DEA:-14.0007</text>
<text x="317.5" y="744" fill="#c8c8c8" font-family="'Liberation Sans', sans-serif" font-size="12" font-weight="normal" text-anchor="start" textLength="73.7" lengthAdjust="spacingAndGlyphs">MACD:5.2254</text>
<text x="58" y="49" fill="#d8d8d8" font-family="'Liberation Sans', sans-serif" font-size="12.5" font-weight="normal" text-anchor="end" stroke="#d8d8d8" stroke-width="0.45">600</text>
<text x="58" y="153" fill="#d8d8d8" font-family="'Liberation Sans', sans-serif" font-size="12.5" font-weight="normal" text-anchor="end" stroke="#d8d8d8" stroke-width="0.45">550</text>
<text x="58" y="257" fill="#d8d8d8" font-family="'Liberation Sans', sans-serif" font-size="12.5" font-weight="normal" text-anchor="end" stroke="#d8d8d8" stroke-width="0.45">500</text>
<text x="58" y="361" fill="#d8d8d8" font-family="'Liberation Sans', sans-serif" font-size="12.5" font-weight="normal" text-anchor="end" stroke="#d8d8d8" stroke-width="0.45">450</text>
<text x="58" y="466" fill="#d8d8d8" font-family="'Liberation Sans', sans-serif" font-size="12.5" font-weight="normal" text-anchor="end" stroke="#d8d8d8" stroke-width="0.45">400</text>
<text x="58" y="784" fill="#d8d8d8" font-family="'Liberation Sans', sans-serif" font-size="12.5" font-weight="normal" text-anchor="end" stroke="#d8d8d8" stroke-width="0.45">10</text>
<text x="58" y="828" fill="#d8d8d8" font-family="'Liberation Sans', sans-serif" font-size="12.5" font-weight="normal" text-anchor="end" stroke="#d8d8d8" stroke-width="0.45">0</text>
<text x="58" y="872" fill="#d8d8d8" font-family="'Liberation Sans', sans-serif" font-size="12.5" font-weight="normal" text-anchor="end" stroke="#d8d8d8" stroke-width="0.45">-10</text>
<text x="58" y="915" fill="#d8d8d8" font-family="'Liberation Sans', sans-serif" font-size="12.5" font-weight="normal" text-anchor="end" stroke="#d8d8d8" stroke-width="0.45">-20</text>
<text x="45.5" y="622" fill="#d8d8d8" font-family="'Liberation Sans', sans-serif" font-size="12.5" font-weight="normal" text-anchor="end" stroke="#d8d8d8" stroke-width="0.45">60</text>
<text x="45.5" y="677" fill="#d8d8d8" font-family="'Liberation Sans', sans-serif" font-size="12.5" font-weight="normal" text-anchor="end" stroke="#d8d8d8" stroke-width="0.45">30</text>
<text x="316" y="52" fill="#f0f0f0" font-family="'Liberation Sans', sans-serif" font-size="12.5" font-weight="bold" text-anchor="end">598.5</text>
<text x="640.3" y="566" fill="#f0f0f0" font-family="'Liberation Sans', sans-serif" font-size="12.5" font-weight="bold" text-anchor="end">351.6</text>
<g stroke="#d8d8d8" stroke-width="1" fill="none" shape-rendering="crispEdges"><path d="M318 47.5h10M325 44.5l3 3l-3 3"/><path d="M642 561.5h10M649 558.5l3 3l-3 3"/></g>
<text x="64" y="966" fill="#f0f0f0" font-family="'Liberation Sans', sans-serif" font-size="11" font-weight="normal" text-anchor="start" textLength="35" lengthAdjust="spacingAndGlyphs">201808</text>
<text x="197" y="966" fill="#f0f0f0" font-family="'Liberation Sans', sans-serif" font-size="11" font-weight="normal" text-anchor="start" textLength="11" lengthAdjust="spacingAndGlyphs">09</text>
<text x="311.5" y="966" fill="#f0f0f0" font-family="'Liberation Sans', sans-serif" font-size="11" font-weight="normal" text-anchor="start" textLength="11" lengthAdjust="spacingAndGlyphs">10</text>
<text x="419.6" y="966" fill="#f0f0f0" font-family="'Liberation Sans', sans-serif" font-size="11" font-weight="normal" text-anchor="start" textLength="11" lengthAdjust="spacingAndGlyphs">11</text>
<text x="551.3" y="966" fill="#f0f0f0" font-family="'Liberation Sans', sans-serif" font-size="11" font-weight="normal" text-anchor="start" textLength="11" lengthAdjust="spacingAndGlyphs">12</text>
<text x="658.3" y="966" fill="#f0f0f0" font-family="'Liberation Sans', sans-serif" font-size="11" font-weight="normal" text-anchor="start" textLength="35" lengthAdjust="spacingAndGlyphs">201901</text>
<text x="802.3" y="966" fill="#f0f0f0" font-family="'Liberation Sans', sans-serif" font-size="11" font-weight="normal" text-anchor="start" textLength="11" lengthAdjust="spacingAndGlyphs">02</text>
<text x="892.8" y="966" fill="#f0f0f0" font-family="'Liberation Sans', sans-serif" font-size="11" font-weight="normal" text-anchor="start" textLength="11" lengthAdjust="spacingAndGlyphs">03</text>
<text x="1018.4" y="966" fill="#f0f0f0" font-family="'Liberation Sans', sans-serif" font-size="11" font-weight="normal" text-anchor="start" textLength="11" lengthAdjust="spacingAndGlyphs">04</text>
<text x="1144" y="966" fill="#f0f0f0" font-family="'Liberation Sans', sans-serif" font-size="11" font-weight="normal" text-anchor="start" textLength="11" lengthAdjust="spacingAndGlyphs">05</text>
<text x="1264.6" y="966" fill="#f0f0f0" font-family="'Liberation Sans', sans-serif" font-size="11" font-weight="normal" text-anchor="start" textLength="11" lengthAdjust="spacingAndGlyphs">06</text>
<text x="3" y="14.6" fill="#fff" font-family="'Liberation Sans', 'Noto Sans CJK SC', sans-serif" font-size="12.4" font-weight="normal" text-anchor="start" textLength="48" lengthAdjust="spacingAndGlyphs">原油主力</text>
<text x="53.6" y="14.5" fill="#fff" font-family="'Liberation Sans', sans-serif" font-size="12" font-weight="normal" text-anchor="start">(</text>
<text x="57.5" y="14" fill="#fff" font-family="'Liberation Sans', sans-serif" font-size="11.5" font-weight="normal" text-anchor="start" textLength="35" lengthAdjust="spacingAndGlyphs">050190</text>
<text x="94" y="14.5" fill="#fff" font-family="'Liberation Sans', sans-serif" font-size="12" font-weight="normal" text-anchor="start">)</text>
<path d="M104.5 5L100.5 9.5L104.5 14M130.5 5L134.5 9.5L130.5 14" stroke="#fff" stroke-width="1" fill="none"/>
<text x="105" y="14.6" fill="#fff" font-family="'Liberation Sans', 'Noto Sans CJK SC', sans-serif" font-size="12.4" font-weight="normal" text-anchor="start" textLength="24" lengthAdjust="spacingAndGlyphs">日线</text>
<text x="34" y="967.6" fill="#fff" font-family="'Liberation Sans', 'Noto Sans CJK SC', sans-serif" font-size="12.4" font-weight="normal" text-anchor="start" textLength="24" lengthAdjust="spacingAndGlyphs">日线</text>
<text x="46" y="622.6" fill="#e0e0e0" font-family="'Liberation Sans', 'Noto Sans CJK SC', sans-serif" font-size="12.4" font-weight="normal" text-anchor="start" stroke="#e0e0e0" stroke-width="0.4">万</text>
<text x="46" y="677.6" fill="#e0e0e0" font-family="'Liberation Sans', 'Noto Sans CJK SC', sans-serif" font-size="12.4" font-weight="normal" text-anchor="start" stroke="#e0e0e0" stroke-width="0.4">万</text>
</svg></body></html>
